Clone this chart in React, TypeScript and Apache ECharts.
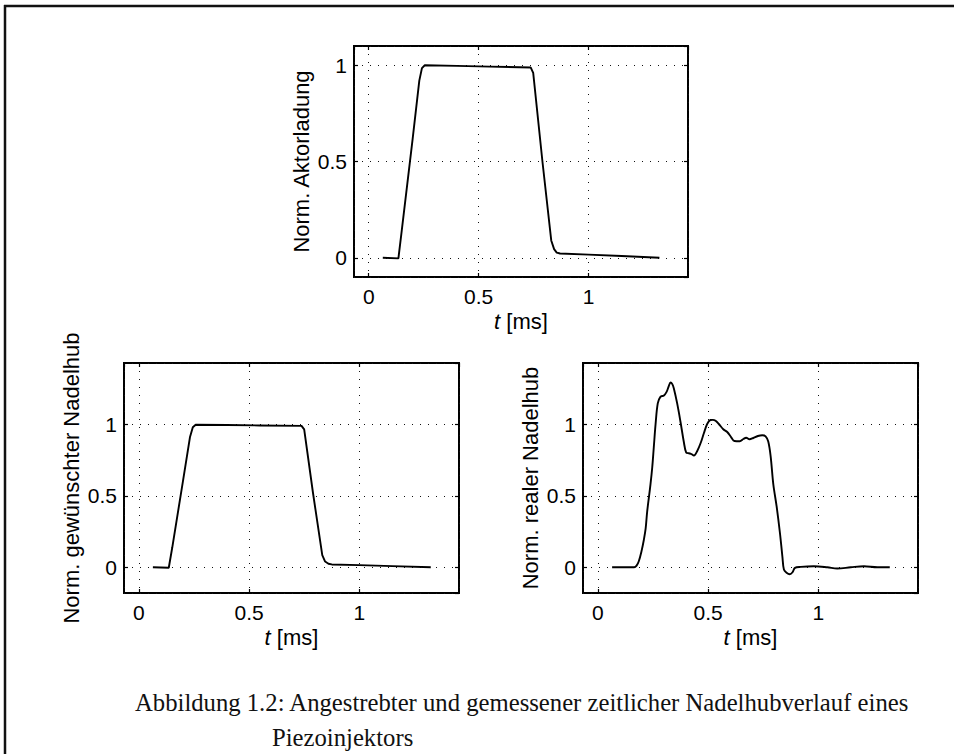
import { useEffect, useRef } from "react";
import * as echarts from "echarts";

// Time axis limits [ms] shared by all three panels
const T_MIN = -0.067;
const T_MAX = 1.452;

// Normalised actuator charge (upper panel)
const chargeT = [0.064, 0.135, 0.150, 0.200, 0.230, 0.242, 0.255, 0.400, 0.550, 0.737, 0.748, 0.790, 0.830, 0.843, 0.855, 0.870, 1.000, 1.150, 1.322];
const chargeV = [0, -0.003, 0.14, 0.62, 0.92, 0.985, 1.0, 0.997, 0.993, 0.988, 0.96, 0.5, 0.09, 0.045, 0.027, 0.022, 0.016, 0.009, 0];

// Normalised desired needle lift (lower left)
const desiredT = [0.064, 0.136, 0.152, 0.200, 0.232, 0.245, 0.258, 0.400, 0.550, 0.738, 0.750, 0.790, 0.832, 0.845, 0.860, 0.875, 1.000, 1.150, 1.324];
const desiredV = [0, -0.003, 0.14, 0.6, 0.91, 0.98, 0.998, 0.996, 0.993, 0.99, 0.965, 0.52, 0.085, 0.04, 0.025, 0.02, 0.015, 0.008, 0];

// Normalised measured needle lift (lower right)
const realT = [0.065, 0.120, 0.165, 0.176, 0.186, 0.198, 0.209, 0.217, 0.224, 0.239, 0.247, 0.254, 0.262, 0.272, 0.284, 0.300, 0.312, 0.322, 0.330, 0.338, 0.345, 0.360, 0.375, 0.390, 0.401, 0.413, 0.424, 0.436, 0.451, 0.466, 0.481, 0.496, 0.511, 0.522, 0.534, 0.549, 0.569, 0.587, 0.605, 0.620, 0.644, 0.660, 0.673, 0.688, 0.705, 0.726, 0.746, 0.761, 0.773, 0.784, 0.796, 0.811, 0.826, 0.837, 0.844, 0.856, 0.871, 0.883, 0.894, 0.920, 0.980, 1.041, 1.086, 1.147, 1.207, 1.268, 1.324];
const realV = [0, 0, 0, 0.012, 0.042, 0.11, 0.193, 0.27, 0.39, 0.58, 0.70, 0.84, 1.0, 1.147, 1.193, 1.203, 1.228, 1.268, 1.294, 1.282, 1.252, 1.147, 1.019, 0.879, 0.803, 0.798, 0.793, 0.782, 0.814, 0.868, 0.938, 1.003, 1.031, 1.032, 1.026, 1.003, 0.966, 0.947, 0.910, 0.884, 0.882, 0.898, 0.907, 0.896, 0.905, 0.919, 0.924, 0.916, 0.88, 0.775, 0.58, 0.426, 0.240, 0.077, -0.016, -0.039, -0.049, -0.035, -0.004, 0.003, 0.007, 0, -0.009, 0, 0.007, 0, 0];

const yTitles = ["Norm. Aktorladung", "Norm. gewünschter Nadelhub", "Norm. realer Nadelhub"];
const xTitle = "{i|t}{r| [ms]}";
const captionLine1 = "Abbildung 1.2: Angestrebter und gemessener zeitlicher Nadelhubverlauf eines";
const captionLine2 = "Piezoinjektors";

const SANS = "'Liberation Sans', Arial, Helvetica, sans-serif";
const SERIF = "'Liberation Serif', 'Times New Roman', serif";

const zip = (t: number[], v: number[]) => t.map((x, i) => [x, v[i]]);

export default function App() {
  const ref = useRef<HTMLDivElement>(null);

  useEffect(() => {
    if (!ref.current) return;
    const chart = echarts.init(ref.current, null, { renderer: "svg" });

    const panels = [
      { grid: { left: 354, top: 46, width: 334, height: 231 }, yMin: -0.1, yMax: 1.1, ySplit: 2, data: zip(chargeT, chargeV), smooth: false },
      { grid: { left: 124, top: 363, width: 335, height: 230 }, yMin: -0.18, yMax: 1.43, ySplit: 3, data: zip(desiredT, desiredV), smooth: false },
      { grid: { left: 583, top: 363, width: 335, height: 230 }, yMin: -0.18, yMax: 1.43, ySplit: 3, data: zip(realT, realV), smooth: 0.35 },
    ];

    const gridLine = { show: true, lineStyle: { color: "#111", width: 1, type: [1, 7] as number[] } };
    const tick = { show: true, inside: true, length: 4, lineStyle: { color: "#000", width: 1.2 } };
    const noLine = { show: false, onZero: false };

    const grids: any[] = [];
    const xAxes: any[] = [];
    const yAxes: any[] = [];
    const series: any[] = [];

    panels.forEach((p, gi) => {
      grids.push({ ...p.grid, show: true, borderColor: "#000", borderWidth: 2, backgroundColor: "transparent" });
      xAxes.push({
        type: "value", gridIndex: gi, position: "bottom", min: T_MIN, max: T_MAX, splitNumber: 3,
        axisLine: noLine, axisTick: tick, splitLine: gridLine,
        axisLabel: { margin: 9, fontSize: 21, color: "#000", fontFamily: SANS, showMinLabel: false, showMaxLabel: false },
        name: xTitle, nameLocation: "middle", nameGap: 33,
        nameTextStyle: {
          color: "#000", fontSize: 22, fontFamily: SANS,
          rich: {
            i: { fontStyle: "italic", fontSize: 22, fontFamily: SANS, color: "#000" },
            r: { fontSize: 22, fontFamily: SANS, color: "#000" },
          },
        },
      });
      xAxes.push({
        type: "value", gridIndex: gi, position: "top", min: T_MIN, max: T_MAX, splitNumber: 3,
        axisLine: noLine, axisTick: tick, splitLine: { show: false }, axisLabel: { show: false },
      });
      yAxes.push({
        type: "value", gridIndex: gi, position: "left", min: p.yMin, max: p.yMax, splitNumber: p.ySplit,
        axisLine: noLine, axisTick: tick, splitLine: gridLine,
        axisLabel: { margin: 7, fontSize: 21, color: "#000", fontFamily: SANS, showMinLabel: false, showMaxLabel: false },
        name: yTitles[gi], nameLocation: "middle", nameRotate: 90, nameGap: 42,
        nameTextStyle: { color: "#000", fontSize: 22, fontFamily: SANS },
      });
      yAxes.push({
        type: "value", gridIndex: gi, position: "right", min: p.yMin, max: p.yMax, splitNumber: p.ySplit,
        axisLine: noLine, axisTick: tick, splitLine: { show: false }, axisLabel: { show: false },
      });
      series.push({
        type: "line", xAxisIndex: gi * 2, yAxisIndex: gi * 2, data: p.data, smooth: p.smooth,
        showSymbol: false, symbol: "none", lineStyle: { color: "#000", width: 1.9 }, z: 3,
      });
    });

    chart.setOption({
      animation: false,
      backgroundColor: "#fff",
      grid: grids,
      xAxis: xAxes,
      yAxis: yAxes,
      series,
      graphic: [
        { type: "line", shape: { x1: 4, y1: 6, x2: 954, y2: 6 }, style: { stroke: "#111", lineWidth: 2.5 } },
        { type: "line", shape: { x1: 5, y1: 5, x2: 5, y2: 754 }, style: { stroke: "#111", lineWidth: 2.5 } },
        { type: "text", x: 135, y: 702, style: { text: captionLine1, fontSize: 24.7, fontFamily: SERIF, fill: "#111", verticalAlign: "middle", align: "left" } },
        { type: "text", x: 272, y: 737, style: { text: captionLine2, fontSize: 24.7, fontFamily: SERIF, fill: "#111", verticalAlign: "middle", align: "left" } },
      ],
    });

    return () => chart.dispose();
  }, []);

  return <div ref={ref} style={{ position: "fixed", left: 0, top: 0, width: 954, height: 754 }} />;
}
